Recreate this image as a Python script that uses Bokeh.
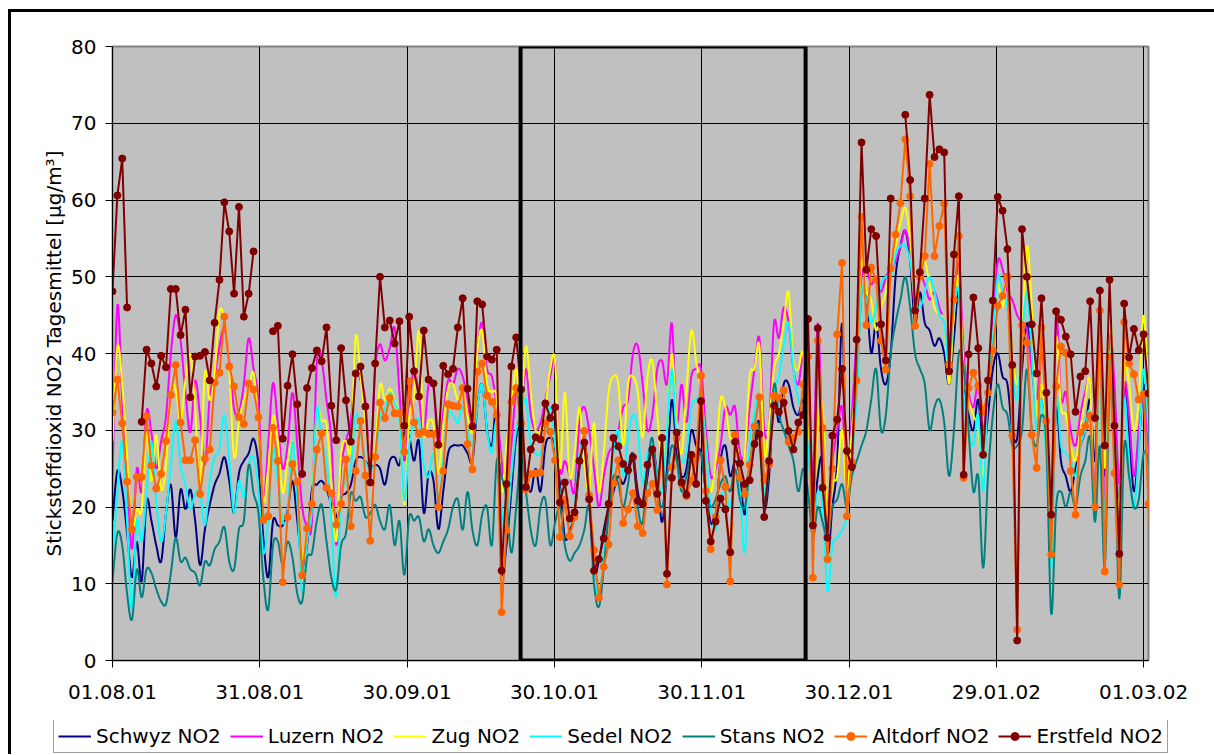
import numpy as np
from bokeh.plotting import figure
from bokeh.layouts import column
from bokeh.models import (Range1d, FixedTicker, CustomJSTickFormatter, Legend, LegendItem,
                          BoxAnnotation, ColumnDataSource)
from bokeh.embed import file_html
from bokeh.resources import INLINE

# Daily mean NO2 concentrations (µg/m³), one value per day starting 01.08.01
schwyz = [
    18.2, 24.7, 22.3, 16.6, 10.8, 15.5, 10.3, 20.8, 18.2, 15.0,
    12.9, 19.2, 22.9, 16.0, 22.3, 19.7, 22.3, 18.2, 12.4, 17.1,
    20.3, 22.9, 24.4, 26.5, 23.4, 19.2, 24.4, 26.0, 27.0, 28.9,
    25.5, 16.0, 10.8, 18.2, 17.6, 17.6, 19.5, 23.4, 18.2, 12.4,
    15.0, 22.3, 22.9, 23.4, 22.3, 20.3, 18.7, 21.3, 21.8, 22.9,
    26.0, 26.5, 26.0, 25.0, 25.5, 25.0, 22.9, 26.0, 26.5, 25.5,
    29.7, 29.1, 26.0, 28.6, 19.2, 24.4, 23.4, 17.1, 22.0, 27.0,
    28, 28, 28, 27, 26, 33, 36, 30, 28, 32,
    12, 15, 22, 29, 30, 24, 22, 25, 22, 28,
    29, 28, 23, 16, 17, 19, 25, 29, 22, 12,
    13, 17, 20, 22, 24, 23, 25, 27, 22, 20,
    24, 28, 24, 18, 25, 34, 27, 24, 25, 30,
    28, 27, 22, 18, 19, 26, 28, 24, 26, 24,
    19, 26, 28, 31, 20, 24, 35, 31, 36, 36,
    33, 32, 34, 30, 18, 24, 26, 14, 20, 26,
    44, 23, 28, 36, 48, 47, 40, 44, 38, 36,
    40, 50, 54, 56, 52, 44, 48, 44, 43, 41,
    42, 40, 36, 42, 48, 36, 32, 30, 34, 27,
    32, 38, 40, 37, 36, 30, 29, 38, 44, 39,
    32, 34, 30, 16, 33, 26, 24, 22, 25, 28,
    30, 34, 26, 40, 24, 38, 30, 20, 36, 30,
    22, 28, 36, 30, 22,
]
luzern = [
    24, 46.3, 33.9, 24, 14.5, 25, 22, 32.5, 29.7, 25,
    28.6, 31.8, 40, 45, 41.7, 34.9, 29.7, 36.5, 31.8, 25.5,
    34.4, 37, 41, 43.3, 39, 32.8, 32.3, 36, 42, 38,
    33.9, 20.8, 28, 36.2, 30.7, 25, 28, 34.9, 28, 20,
    17.6, 18.2, 39, 39, 33.9, 28.6, 15, 25, 28.6, 31.2,
    37.5, 36.5, 33.9, 26, 38, 41.2, 39.1, 40.7, 43.3, 34.9,
    26, 32.8, 38, 34.4, 29.7, 36, 35.4, 28.1, 32.3, 36.5,
    36, 38, 37, 34, 30, 40, 44, 38, 37, 33,
    26, 22, 28, 35, 33, 38, 32, 30, 31, 34,
    37, 39, 25, 26, 24, 22, 31, 33, 30, 25,
    20, 24, 27, 28, 30, 33, 34, 40, 41, 36,
    30, 32, 38, 39, 36, 44, 31, 36, 31, 37,
    38, 38, 30, 24, 25, 28, 33, 32, 33, 27,
    27, 33, 38, 42, 30, 31, 44, 42, 46, 44,
    38, 36, 40, 38, 24, 44, 28, 20, 26, 30,
    33, 24, 32, 42, 50, 51, 49, 50, 48, 50,
    51, 52, 54, 56, 53, 46, 50, 49, 47, 48,
    46, 44, 40, 45, 52, 40, 35, 33, 36, 30,
    36, 44, 52, 51, 48, 47, 45, 44, 43, 38,
    34, 40, 33, 20, 45, 34, 35, 30, 28, 32,
    35, 36, 22, 46, 20, 42, 36, 23, 36, 32,
    24, 30, 35, 28, 25,
]
zug = [
    28.6, 40.9, 36, 26.5, 17.1, 19.7, 19.7, 29.7, 23.4, 29.4,
    22.3, 25.5, 34.9, 35.4, 31.2, 36.5, 39.9, 32.8, 22.9, 37.5,
    33.9, 37.5, 45.4, 44.3, 38, 26.5, 31.2, 33.9, 35.4, 37.5,
    30.7, 20.8, 25, 31.8, 28.6, 21.8, 26, 28.6, 23.4, 13.4,
    17.1, 20.8, 32.3, 31.2, 30.7, 23.4, 15.5, 27, 28.6, 27.6,
    42.2, 37, 31.2, 26.5, 27.6, 35.9, 33.9, 35.4, 33.9, 31.2,
    20.3, 31.8, 34.4, 43, 29.7, 31.2, 30.7, 24.4, 30.7, 35.4,
    36, 34, 35, 32, 30, 40, 43, 36, 35, 34,
    22, 28, 33, 38, 33, 41, 35, 30, 30, 33,
    38, 39, 25, 35, 24, 27, 33, 26, 22, 31,
    22, 27, 35, 37, 36, 28, 36, 37, 35, 29,
    37, 39, 32, 26, 30, 40, 31, 27, 35, 43,
    39, 35, 28, 22, 26, 34, 33, 29, 29, 26,
    27, 37, 38, 41, 27, 31, 38, 40, 44, 48,
    39, 38, 40, 30, 20, 30, 33, 18, 23, 24,
    30, 22, 30, 38, 52, 48, 47, 43, 46, 48,
    52, 54, 57, 59, 55, 47, 50, 52, 49, 46,
    45, 44, 36, 45, 50, 38, 34, 32, 30, 24,
    36, 42, 49, 46, 50, 40, 36, 42, 54, 46,
    32, 36, 30, 20, 42, 33, 32, 28, 26, 30,
    34, 36, 18, 42, 25, 46, 30, 20, 38, 36,
    30, 34, 45, 35, 28,
]
sedel = [
    12.9, 22, 28.6, 18, 6.6, 18.2, 15.5, 21.8, 28.6, 20.8,
    15.5, 19.2, 25.5, 31.2, 25.5, 22.9, 19.7, 21.8, 21.8, 17.6,
    23.4, 26.5, 27.6, 32, 26, 19.2, 23.4, 21.3, 25.5, 26.5,
    22.3, 14, 18.2, 27.6, 23.4, 18.2, 19.2, 28.6, 20.8, 8.7,
    15.5, 19.7, 32.8, 28.6, 26, 18.2, 8.2, 20.8, 23.4, 25,
    32, 29.7, 26, 25, 26, 31.8, 32.8, 34.9, 33.6, 31.2,
    20.8, 28.1, 30.7, 31.2, 25.5, 23.9, 27, 20.8, 26, 32,
    32, 31, 33, 30, 28, 33, 36, 30, 27, 31,
    20, 17, 24, 30, 32, 34, 28, 27, 27, 30,
    33, 28, 22, 20, 18, 20, 27, 28, 22, 12,
    8, 14, 20, 27, 30, 24, 29, 32, 30, 23,
    27, 28, 24, 22, 30, 38, 29, 26, 27, 33,
    34, 34, 28, 20, 17, 21, 22, 20, 24, 22,
    14, 28, 32, 34, 22, 26, 35, 37, 41, 44,
    38, 34, 32, 28, 18, 22, 20, 9, 15, 16,
    17, 19, 26, 34, 48, 47, 44, 46, 49, 50,
    50, 53, 54, 54, 52, 47, 46, 48, 50, 48,
    45, 44, 38, 46, 48, 35, 30, 28, 32, 22,
    36, 42, 50, 48, 46, 38, 34, 42, 48, 40,
    30, 34, 26, 12, 34, 28, 27, 26, 24, 28,
    30, 32, 18, 40, 18, 40, 30, 16, 34, 25,
    20, 27, 38, 30, 22,
]
stans = [
    10.3, 16.6, 15, 8.7, 5.3, 11.9, 8.2, 11.9, 11.4, 9.3,
    7.7, 7.4, 11.4, 16, 12.9, 13.4, 11.9, 11.4, 9.8, 12.9,
    12.4, 14.5, 15.5, 17.4, 12.9, 11.9, 17.1, 18.2, 25.5, 21.8,
    19.2, 10.8, 6.6, 15, 15.5, 12.4, 15.5, 13.4, 8.7, 7.7,
    13.4, 14, 18.2, 20.3, 15.5, 10.8, 9.3, 15, 16.6, 21.8,
    20.8, 21.3, 18.7, 19.2, 20.3, 18.2, 17.1, 20.3, 15, 18.2,
    11.1, 18.7, 18.2, 18.7, 15.5, 17.1, 15, 14, 15.5, 17.1,
    20, 21, 17, 22, 17, 15, 19, 20, 15, 26,
    24, 21, 14, 20, 27, 22, 17, 15, 20, 21,
    15, 18, 20, 15, 13, 14, 15, 17, 20, 10,
    7, 12, 19, 24, 23, 20, 23, 27, 20, 18,
    25, 29, 22, 20, 24, 28, 26, 22, 24, 27,
    26, 27, 22, 20, 21, 23, 24, 22, 25, 21,
    20, 25, 30, 30, 20, 26, 36, 32, 30, 28,
    26, 22, 25, 22, 16, 20, 18, 16, 20, 21,
    23, 20, 24, 26, 28, 30, 34, 38, 30, 32,
    40, 44, 47, 50, 46, 40, 38, 36, 30, 33,
    34, 31, 24, 30, 40, 38, 30, 22, 24, 12,
    24, 32, 36, 33, 32, 28, 28, 30, 38, 30,
    28, 32, 28, 6, 20, 22, 20, 22, 20, 24,
    26, 29, 18, 28, 12, 35, 28, 8, 28, 24,
    20, 21, 27, 26, 22,
]
altdorf = [
    32.3, 36.6, 30.9, 23.3, 17.1, 23.9, 23.9, 31.8, 25.4, 22.4,
    24.3, 28.6, 34.6, 38.5, 31.0, 26.1, 26.1, 28.7, 21.7, 26.3,
    27.5, 36.2, 37.5, 44.8, 38.3, 35.7, 31.7, 30.8, 36.1, 35.3,
    31.7, 18.3, 18.8, 30.3, 26.0, 10.2, 18.7, 25.6, 23.3, 11.1,
    17.2, 20.4, 27.5, 29.6, 22.5, 21.8, 17.7, 20.4, 26.2, 17.5,
    24.7, 31.2, 24.1, 15.6, 26.5, 33.6, 31.6, 34.2, 32.2, 32.2,
    27.2, 36.4, 31.0, 29.5, 29.8, 29.5, 29.5, 20.0, 24.7, 33.4,
    33.2, 33.1, 35.5, 28.2, 24.9, 37.6, 38.7, 34.5, 33.7, 32.0,
    6.3, 17.0, 33.7, 35.5, 30.9, 22.3, 24.3, 24.4, 24.5, 30.9,
    29.8, 26.1, 16.1, 20.9, 16.2, 18.7, 26.0, 29.9, 21.5, 14.4,
    8.2, 12.2, 15.1, 23.1, 26.1, 17.9, 19.7, 21.8, 17.5, 16.6,
    21.8, 23.0, 19.6, 29.0, 9.9, 25.2, 29.0, 23.0, 21.4, 23.4,
    26.3, 37.1, 22.1, 14.5, 18.7, 26.1, 22.6, 10.3, 29.4, 23.9,
    21.7, 25.5, 30.5, 34.3, 23.5, 25.5, 34.5, 34.2, 35.2, 28.5,
    29.0, 29.8, 36.0, 39.6, 10.8, 41.7, 30.3, 13.2, 25.0, 42.5,
    51.8, 18.8, 25.9, 36.5, 57.8, 43.7, 51.2, 49.6, 41.7, 37.9,
    51.1, 55.5, 59.6, 67.9, 60.5, 43.6, 50.0, 52.7, 64.7, 52.7,
    56.6, 59.5, 38.6, 47.0, 55.3, 23.8, 35.5, 37.5, 35.8, 32.4,
    34.9, 40.4, 46.2, 47.5, 50.0, 29.3, 4.0, 43.7, 41.4, 29.4,
    25.1, 43.4, 31.2, 13.8, 35.7, 40.9, 40.1, 24.7, 19.0, 29.7,
    30.5, 31.9, 20.0, 45.6, 11.6, 39.6, 24.4, 9.9, 44.1, 38.7,
    37.3, 34.0, 34.7, 20.4, 10.0,
]
nan = float("nan")  # days without a valid measurement
erstfeld = [
    48.1, 60.6, 65.4, 46.0, nan, nan, 31.1, 40.5, 38.7, 35.7,
    39.7, 38.2, 48.4, 48.4, 42.4, 45.7, 34.3, 39.6, 39.7, 40.2,
    36.5, 44.0, 49.6, 59.7, 55.9, 47.8, 59.1, 44.8, 47.8, 53.3,
    nan, nan, nan, 42.9, 43.6, 28.9, 35.8, 39.9, 33.4, 24.3,
    35.5, 38.1, 40.4, 39.0, 43.4, 33.2, 28.7, 40.7, 33.9, 28.5,
    37.4, 38.3, 33.1, 23.2, 38.7, 50.0, 43.4, 44.3, 41.3, 44.2,
    30.6, 44.8, 37.7, 34.4, 43.0, 36.6, 36.1, 28.1, 38.4, 37.3,
    38.0, 43.4, 47.2, 35.4, 30.5, 46.8, 46.4, 39.6, 39.2, 40.5,
    11.7, 23.0, 38.3, 42.1, 35.3, 22.6, 27.5, 29.1, 28.8, 33.5,
    31.6, 33.0, 20.6, 23.2, 18.5, 19.3, 26.0, 28.4, 21.0, 11.7,
    13.2, 15.9, 20.4, 29.0, 27.9, 25.6, 24.8, 26.5, 20.8, 20.4,
    25.5, 27.5, 21.7, 29.0, 11.3, 23.8, 29.7, 23.2, 21.6, 26.8,
    23.0, 33.8, 20.8, 15.5, 18.1, 21.1, 19.7, 14.1, 28.5, 25.7,
    23.0, 23.5, 28.2, 29.5, 18.7, 26.0, 33.2, 32.4, 33.6, 29.9,
    27.5, 31.0, 32.0, 44.5, 17.6, 43.3, 22.5, 16.0, 29.3, 31.4,
    38.0, 27.3, 25.2, 41.8, 67.5, 50.9, 56.2, 55.3, 43.8, 39.1,
    60.2, nan, nan, 71.1, 62.6, 45.6, 50.6, 60.2, 73.7, 65.6,
    66.6, 66.2, 37.7, 52.9, 60.5, 24.2, 39.9, 47.3, 40.7, 26.8,
    36.5, 46.9, 60.4, 58.6, 53.6, 38.5, 2.6, 56.2, 50.0, 43.8,
    37.4, 47.2, 34.9, 19.0, 45.5, 44.4, 42.2, 39.9, 32.4, 37.0,
    37.7, 46.8, 31.6, 48.2, 28.0, 49.6, 30.6, 13.9, 46.5, 39.5,
    43.2, 40.4, 42.5, 34.8, 13.0,
]

tick_labels = ["01.08.01", "31.08.01", "30.09.01", "30.10.01",
               "30.11.01", "30.12.01", "29.01.02", "01.03.02"]
tick_every = 212 / 7          # label spacing in days along the category axis
period_start, period_end = 83.9, 142.5   # framed inversion period

FONT = "DejaVu Sans"


def smooth(ys, steps=8):
    """Cubic Bezier smoothing through every daily value (Excel-style smoothed line)."""
    y = np.asarray(ys, float)
    x = np.arange(len(y), dtype=float)
    n = len(y)
    t = np.linspace(0, 1, steps, endpoint=False)
    out_x, out_y = [], []
    for i in range(n - 1):
        i0 = max(i - 1, 0)
        i3 = min(i + 2, n - 1)
        c1x = x[i] + (x[i + 1] - x[i0]) / 6
        c1y = y[i] + (y[i + 1] - y[i0]) / 6
        c2x = x[i + 1] - (x[i3] - x[i]) / 6
        c2y = y[i + 1] - (y[i3] - y[i]) / 6
        a, b, c, d = (1 - t) ** 3, 3 * (1 - t) ** 2 * t, 3 * (1 - t) * t ** 2, t ** 3
        out_x.append(a * x[i] + b * c1x + c * c2x + d * x[i + 1])
        out_y.append(a * y[i] + b * c1y + c * c2y + d * y[i + 1])
    out_x.append([x[-1]])
    out_y.append([y[-1]])
    return np.concatenate(out_x), np.concatenate(out_y)


p = figure(frame_width=1036, frame_height=614,
           x_range=Range1d(0, 213), y_range=Range1d(0, 80),
           output_backend="svg", toolbar_location=None,
           background_fill_color="#C0C0C0", border_fill_color="white",
           min_border_left=101, min_border_top=34, min_border_right=66, min_border_bottom=60)
p.frame_align = False

p.outline_line_color = "#808080"
p.outline_line_width = 2

# axes
p.xaxis.ticker = FixedTicker(ticks=[k * tick_every for k in range(len(tick_labels))])
p.xaxis.formatter = CustomJSTickFormatter(
    args=dict(labels=tick_labels, step=tick_every),
    code="return labels[Math.round(tick / step)];")
p.yaxis.ticker = FixedTicker(ticks=list(range(0, 81, 10)))
for ax in (p.xaxis[0], p.yaxis[0]):
    ax.major_label_text_font = FONT
    ax.major_label_text_font_size = "20px"
    ax.major_label_text_color = "black"
    ax.axis_line_color = "black"
    ax.major_tick_line_color = "black"
    ax.major_tick_in = 0
    ax.major_tick_out = 7
    ax.minor_tick_line_color = None
p.xaxis.major_label_standoff = 17
p.yaxis.major_label_standoff = 9
p.yaxis.axis_label = "Stickstoffdioxid NO2 Tagesmittel [µg/m³]"
p.yaxis.axis_label_text_font = FONT
p.yaxis.axis_label_text_font_size = "20px"
p.yaxis.axis_label_text_font_style = "normal"
p.yaxis.axis_label_text_color = "black"
p.yaxis.axis_label_standoff = 2

p.xgrid.ticker = p.xaxis.ticker
p.ygrid.ticker = p.yaxis.ticker
for g in (p.xgrid[0], p.ygrid[0]):
    g.grid_line_color = "black"
    g.grid_line_width = 1

# legend strip underneath the chart; its ranges keep the series out of view
key = figure(width=1203, height=34, x_range=Range1d(-10, -9), y_range=Range1d(0, 1),
             output_backend="svg", toolbar_location=None,
             x_axis_type=None, y_axis_type=None, min_border=0,
             min_border_left=0, min_border_right=0, min_border_top=0, min_border_bottom=0,
             outline_line_color=None, background_fill_color="white",
             border_fill_color="white")
key.frame_align = False

items = []
# smoothed station lines
smooth_series = [("Schwyz NO2", schwyz, "#000080"),
                 ("Luzern NO2", luzern, "#FF00FF"),
                 ("Zug NO2", zug, "#FFFF00"),
                 ("Sedel NO2", sedel, "#00FFFF"),
                 ("Stans NO2", stans, "#008080")]
for label, vals, color in smooth_series:
    sx, sy = smooth(vals)
    src = ColumnDataSource(dict(x=sx, y=sy))
    p.line("x", "y", source=src, line_color=color, line_width=2)
    proxy = key.line("x", "y", source=src, line_color=color, line_width=2)
    items.append(LegendItem(label=label, renderers=[proxy]))

# stations drawn with straight segments and point markers
marked_series = [("Altdorf NO2", altdorf, "#FF6600"),
                 ("Erstfeld NO2", erstfeld, "#800000")]
for label, vals, color in marked_series:
    src = ColumnDataSource(dict(x=np.arange(len(vals), dtype=float), y=np.asarray(vals, float)))
    p.line("x", "y", source=src, line_color=color, line_width=2)
    p.scatter("x", "y", source=src, marker="circle", size=7,
              fill_color=color, line_color=color)
    pl = key.line("x", "y", source=src, line_color=color, line_width=2)
    ps = key.scatter("x", "y", source=src, marker="circle", size=7,
                     fill_color=color, line_color=color)
    items.append(LegendItem(label=label, renderers=[pl, ps]))

p.add_layout(BoxAnnotation(left=period_start, right=period_end, fill_alpha=0,
                           line_color="black", line_alpha=1, line_width=4))

legend = Legend(items=items, orientation="horizontal", location=(42, 1),
                label_text_font=FONT, label_text_font_size="20px",
                label_text_color="black",
                glyph_width=33, glyph_height=20, label_standoff=5, spacing=9,
                padding=4, margin=0, label_height=20,
                border_line_color="#404040", border_line_width=1,
                background_fill_color="white", background_fill_alpha=1)
key.add_layout(legend, "center")

page = column(p, key, spacing=0,
              styles={"margin-left": "8px", "margin-top": "9px",
                      "border-left": "3px solid black", "border-top": "3px solid black"})

open("out.html", "w").write(file_html(page, INLINE))
